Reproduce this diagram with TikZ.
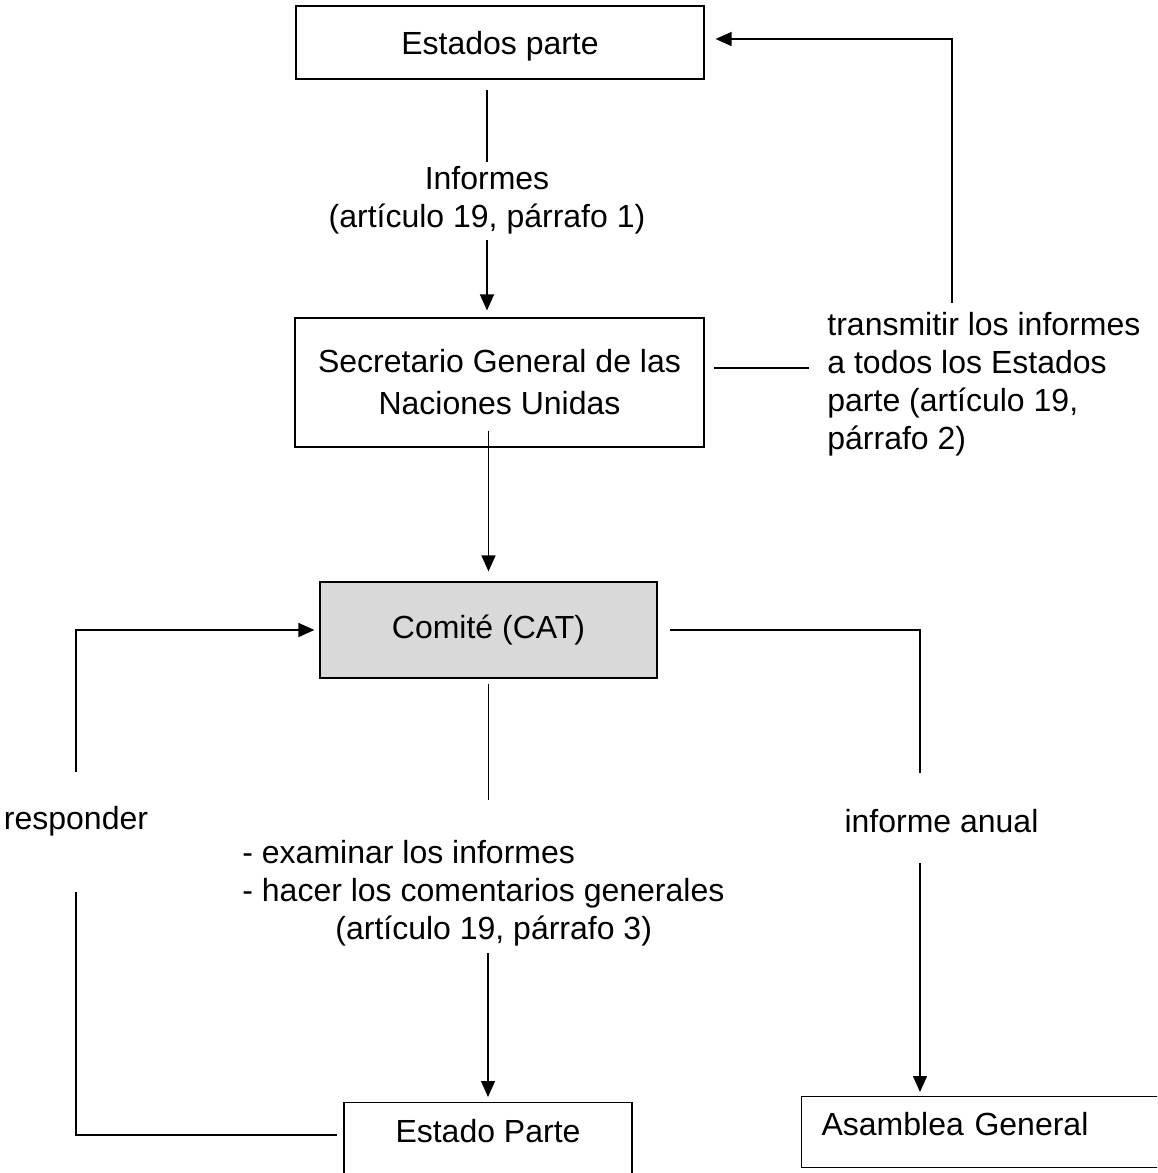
\documentclass[tikz,border=0pt]{standalone}
\usepackage{fontspec}
\setmainfont{Liberation Sans}
\usetikzlibrary{arrows.meta}
\definecolor{catgray}{RGB}{217,217,217}

\begin{document}
\begin{tikzpicture}[x=0.5pt,y=-0.5pt,
    font=\fontsize{16}{19}\selectfont,
    >={Triangle[length=8pt,width=7pt]},
    box/.style={draw,line width=0.6pt,inner sep=0pt,align=center},
    note/.style={inner sep=0pt},
    link/.style={line width=0.7pt},
    boldlink/.style={line width=1pt}]
    \useasboundingbox (0,0) rectangle (1157,1173);
    \clip (0,0) rectangle (1157,1173);
    \path (500,42.5) node [box,minimum width=204pt,minimum height=36.5pt,text depth=0pt]
	(estados) {Estados parte};
    \path (499.5,382.5) node [box,minimum width=204.5pt,minimum height=64.5pt,
	font=\fontsize{16}{21}\selectfont]
	(secretario) {Secretario General de las\\Naciones Unidas};
    \path (488.5,630) node [box,fill=catgray,minimum width=168.5pt,minimum height=48pt]
	(comite) {Comité (CAT)};
    \path (488,1102) node [box,anchor=north,minimum width=144pt,
	text height=20pt,text depth=22pt]
	(estadoparte) {Estado Parte};
    \path (801,1096) node [box,anchor=north west,inner xsep=10pt,text width=170pt,
	align=left,text height=19.5pt,text depth=16pt]
	(asamblea) {Asamblea General};
    \path (487,200) node [note,align=center]
	(informes) {Informes\\(artículo 19, párrafo 1)};
    \path (827,384) node [note,anchor=west,align=left]
	(transmitir) {transmitir los informes\\a todos los Estados\\parte (artículo 19,\\párrafo 2)};
    \path (242,893) node [note,anchor=west,align=left]
	(examinar) {- examinar los informes\\- hacer los comentarios generales\\\hspace*{46.5pt}(artículo 19, párrafo 3)};
    \path (76,821) node [note] (responder) {responder};
    \path (941.5,821) node [note] (anual) {informe anual};
    \coordinate (tr) at (952,39);
    \draw [link,shorten <=5pt,shorten >=2pt] (estados.south -| informes) -- (informes);
    \draw [link,->,shorten <=3pt,shorten >=3.5pt] (informes) -- (informes |- secretario.north);
    \draw [link,->,shorten <=-8.5pt,shorten >=5pt] (secretario.south -| comite) -- (comite);
    \draw [link,shorten <=2.5pt,shorten >=20pt] (comite) -- (comite |- examinar.north);
    \draw [link,->,shorten <=3.5pt,shorten >=2.5pt] (examinar.south -| estadoparte) -- (estadoparte);
    \draw [boldlink,shorten <=4.5pt,shorten >=9pt] ([yshift=7.5pt]secretario.east)
	-- ([yshift=7.5pt]secretario.east -| transmitir.west);
    \draw [link,->,shorten <=4.3pt,shorten >=5.5pt] (transmitir.north -| tr) -- (tr)
	-- (tr -| estados.east);
    \draw [boldlink,shorten <=6pt,shorten >=18pt] (comite) -| ([xshift=-10.75pt]anual.north);
    \draw [link,->,shorten <=15pt,shorten >=2pt] ([xshift=-10.75pt]anual.south)
	-- ([xshift=-10.75pt]anual.south |- asamblea.north);
    \draw [link,->,shorten <=17pt,shorten >=2.5pt] (responder) |- (comite);
    \draw [boldlink,shorten <=28pt,shorten >=3pt] (responder) |- ([yshift=5pt]estadoparte.west);
\end{tikzpicture}
\end{document}
